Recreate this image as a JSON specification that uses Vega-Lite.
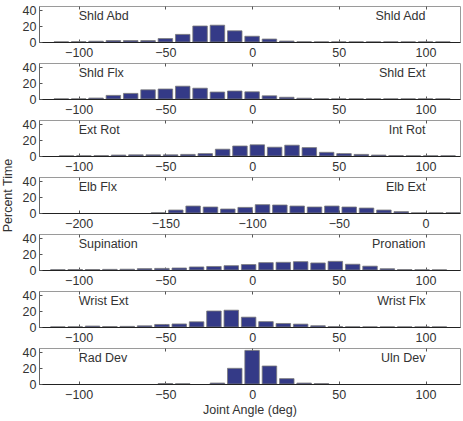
{
  "$schema": "https://vega.github.io/schema/vega-lite/v6.json",
  "padding": {"left": 0, "top": 3, "right": 0, "bottom": 0},
  "spacing": 21,
  "bounds": "flush",
  "config": {
    "font": "Liberation Sans",
    "view": {"stroke": "#9a9a9a", "strokeWidth": 1},
    "axis": {"labelFont": "Liberation Sans", "labelFontSize": 12.5, "labelColor": "#333333", "tickColor": "#555555", "domainColor": "#444444", "grid": false, "titleFont": "Liberation Sans", "titleFontSize": 12.5, "titleFontWeight": "normal", "titleColor": "#333333"}
  },
  "datasets": {
    "hist": [
      {"p":1,"a":-110,"v":0.2},{"p":1,"a":-100,"v":0.4},{"p":1,"a":-90,"v":1},{"p":1,"a":-80,"v":1.8},{"p":1,"a":-70,"v":1.8},{"p":1,"a":-60,"v":1.8},{"p":1,"a":-50,"v":4.3},{"p":1,"a":-40,"v":9.5},{"p":1,"a":-30,"v":20},{"p":1,"a":-20,"v":21},{"p":1,"a":-10,"v":14},{"p":1,"a":0,"v":7.2},{"p":1,"a":10,"v":3.7},{"p":1,"a":20,"v":1.2},{"p":1,"a":30,"v":0.3},{"p":1,"a":40,"v":0.2},{"p":1,"a":50,"v":0.2},{"p":1,"a":60,"v":0.2},{"p":1,"a":70,"v":0.2},{"p":1,"a":80,"v":0.2},{"p":1,"a":90,"v":0.2},{"p":1,"a":100,"v":0.2},{"p":1,"a":110,"v":0.2},
      {"p":2,"a":-110,"v":0.2},{"p":2,"a":-100,"v":0.2},{"p":2,"a":-90,"v":1.2},{"p":2,"a":-80,"v":4.5},{"p":2,"a":-70,"v":7},{"p":2,"a":-60,"v":11.5},{"p":2,"a":-50,"v":12.5},{"p":2,"a":-40,"v":16},{"p":2,"a":-30,"v":13.5},{"p":2,"a":-20,"v":8.7},{"p":2,"a":-10,"v":10},{"p":2,"a":0,"v":9},{"p":2,"a":10,"v":4},{"p":2,"a":20,"v":2.2},{"p":2,"a":30,"v":1},{"p":2,"a":40,"v":0.3},{"p":2,"a":50,"v":0.2},{"p":2,"a":60,"v":0.2},{"p":2,"a":70,"v":0.2},{"p":2,"a":80,"v":0.2},{"p":2,"a":90,"v":0.2},{"p":2,"a":100,"v":0.2},{"p":2,"a":110,"v":0.2},
      {"p":3,"a":-107,"v":0.2},{"p":3,"a":-97,"v":0.3},{"p":3,"a":-87,"v":0.5},{"p":3,"a":-77,"v":1.2},{"p":3,"a":-67,"v":1.5},{"p":3,"a":-57,"v":1.5},{"p":3,"a":-47,"v":1.5},{"p":3,"a":-37,"v":2},{"p":3,"a":-27,"v":3},{"p":3,"a":-17,"v":8.5},{"p":3,"a":-7,"v":12.5},{"p":3,"a":3,"v":14},{"p":3,"a":13,"v":11},{"p":3,"a":23,"v":13.5},{"p":3,"a":33,"v":10.5},{"p":3,"a":43,"v":4.6},{"p":3,"a":53,"v":3},{"p":3,"a":63,"v":2},{"p":3,"a":73,"v":1.2},{"p":3,"a":83,"v":0.5},{"p":3,"a":93,"v":0.3},{"p":3,"a":103,"v":0.3},{"p":3,"a":113,"v":0.3},
      {"p":4,"a":-154,"v":0.3},{"p":4,"a":-144,"v":3.7},{"p":4,"a":-134,"v":8.7},{"p":4,"a":-124,"v":7.5},{"p":4,"a":-114,"v":5},{"p":4,"a":-104,"v":7},{"p":4,"a":-94,"v":10.4},{"p":4,"a":-84,"v":10},{"p":4,"a":-74,"v":8.7},{"p":4,"a":-64,"v":7.5},{"p":4,"a":-54,"v":8.7},{"p":4,"a":-44,"v":7.5},{"p":4,"a":-34,"v":6.2},{"p":4,"a":-24,"v":3.7},{"p":4,"a":-14,"v":1.7},{"p":4,"a":-4,"v":0.2},{"p":4,"a":6,"v":0.2},{"p":4,"a":16,"v":0.4},
      {"p":5,"a":-112,"v":0.4},{"p":5,"a":-102,"v":0.6},{"p":5,"a":-92,"v":0.6},{"p":5,"a":-82,"v":0.8},{"p":5,"a":-72,"v":1},{"p":5,"a":-62,"v":1.7},{"p":5,"a":-52,"v":2},{"p":5,"a":-42,"v":2.5},{"p":5,"a":-32,"v":3.8},{"p":5,"a":-22,"v":4.4},{"p":5,"a":-12,"v":5.4},{"p":5,"a":-2,"v":6.8},{"p":5,"a":8,"v":9.2},{"p":5,"a":18,"v":9.6},{"p":5,"a":28,"v":10.4},{"p":5,"a":38,"v":8.8},{"p":5,"a":48,"v":10.8},{"p":5,"a":58,"v":7.2},{"p":5,"a":68,"v":4.8},{"p":5,"a":78,"v":1.6},{"p":5,"a":88,"v":0.5},{"p":5,"a":98,"v":0.3},{"p":5,"a":108,"v":0.2},
      {"p":6,"a":-112,"v":0.2},{"p":6,"a":-102,"v":0.3},{"p":6,"a":-92,"v":1.2},{"p":6,"a":-82,"v":0.6},{"p":6,"a":-72,"v":0.8},{"p":6,"a":-62,"v":1.5},{"p":6,"a":-52,"v":3.2},{"p":6,"a":-42,"v":3.8},{"p":6,"a":-32,"v":6.5},{"p":6,"a":-22,"v":20},{"p":6,"a":-12,"v":21},{"p":6,"a":-2,"v":12.3},{"p":6,"a":8,"v":6.7},{"p":6,"a":18,"v":4.4},{"p":6,"a":28,"v":3.6},{"p":6,"a":38,"v":1.6},{"p":6,"a":48,"v":0.5},{"p":6,"a":58,"v":0.3},{"p":6,"a":68,"v":0.2},{"p":6,"a":78,"v":0.2},{"p":6,"a":88,"v":0.2},{"p":6,"a":98,"v":0.2},{"p":6,"a":108,"v":0.2},
      {"p":7,"a":-50,"v":0.6},{"p":7,"a":-40,"v":0.3},{"p":7,"a":-20,"v":1.2},{"p":7,"a":-10,"v":19.6},{"p":7,"a":0,"v":42},{"p":7,"a":10,"v":22.5},{"p":7,"a":20,"v":6.7},{"p":7,"a":30,"v":1.2},{"p":7,"a":40,"v":0.5}
    ],
    "labels": [
      {"p":1,"side":"L","x":-100,"y":33,"t":"Shld Abd"},{"p":1,"side":"R","x":100,"y":33,"t":"Shld Add"},
      {"p":2,"side":"L","x":-100,"y":33,"t":"Shld Flx"},{"p":2,"side":"R","x":100,"y":33,"t":"Shld Ext"},
      {"p":3,"side":"L","x":-100,"y":33,"t":"Ext Rot"},{"p":3,"side":"R","x":100,"y":33,"t":"Int Rot"},
      {"p":4,"side":"L","x":-200,"y":33,"t":"Elb Flx"},{"p":4,"side":"R","x":0,"y":33,"t":"Elb Ext"},
      {"p":5,"side":"L","x":-100,"y":33,"t":"Supination"},{"p":5,"side":"R","x":100,"y":33,"t":"Pronation"},
      {"p":6,"side":"L","x":-100,"y":33,"t":"Wrist Ext"},{"p":6,"side":"R","x":100,"y":33,"t":"Wrist Flx"},
      {"p":7,"side":"L","x":-100,"y":32,"t":"Rad Dev"},{"p":7,"side":"R","x":100,"y":32,"t":"Uln Dev"}
    ]
  },
  "vconcat": [
    {"width": 421, "height": 36, "resolve": {"axis": {"x": "independent"}}, "layer": [
      {"data": {"name": "hist"}, "transform": [{"filter": "datum.p == 1"}], "mark": {"type": "bar", "width": 14.5, "color": "#343A87", "stroke": "#7a7a7a", "strokeWidth": 0.8, "clip": true},
       "encoding": {"x": {"field": "a", "type": "quantitative", "scale": {"domain": [-120, 117], "nice": false, "zero": false}, "axis": {"values": [-100,-50,0,50,100], "title": null, "tickSize": -3, "labelPadding": 7, "domainColor": "#222222"}},
                    "y": {"field": "v", "type": "quantitative", "scale": {"domain": [0, 45], "nice": false}, "axis": {"values": [0,20,40], "title": null, "tickSize": -3, "labelPadding": 6, "domainColor": "#666666"}}}},
      {"data": {"name": "labels"}, "transform": [{"filter": "datum.p == 1 && datum.side == 'L'"}], "mark": {"type": "text", "align": "left", "baseline": "middle", "fontSize": 12.5, "color": "#333333"},
       "encoding": {"x": {"field": "x", "type": "quantitative", "axis": null}, "y": {"field": "y", "type": "quantitative", "axis": {"values": [0,20,40], "title": null, "tickSize": -3, "labelPadding": 6, "domainColor": "#666666"}}, "text": {"field": "t"}}},
      {"data": {"name": "labels"}, "transform": [{"filter": "datum.p == 1 && datum.side == 'R'"}], "mark": {"type": "text", "align": "right", "baseline": "middle", "fontSize": 12.5, "color": "#333333"},
       "encoding": {"x": {"field": "x", "type": "quantitative", "axis": {"orient": "top", "values": [-100,-50,0,50,100], "labels": false, "domain": false, "tickSize": -3, "title": null}}, "y": {"field": "y", "type": "quantitative", "axis": {"values": [0,20,40], "title": null, "tickSize": -3, "labelPadding": 6, "domainColor": "#666666"}}, "text": {"field": "t"}}}
    ]},
    {"width": 421, "height": 36, "resolve": {"axis": {"x": "independent"}}, "layer": [
      {"data": {"name": "hist"}, "transform": [{"filter": "datum.p == 2"}], "mark": {"type": "bar", "width": 14.5, "color": "#343A87", "stroke": "#7a7a7a", "strokeWidth": 0.8, "clip": true},
       "encoding": {"x": {"field": "a", "type": "quantitative", "scale": {"domain": [-120, 117], "nice": false, "zero": false}, "axis": {"values": [-100,-50,0,50,100], "title": null, "tickSize": -3, "labelPadding": 7, "domainColor": "#222222"}},
                    "y": {"field": "v", "type": "quantitative", "scale": {"domain": [0, 45], "nice": false}, "axis": {"values": [0,20,40], "title": null, "tickSize": -3, "labelPadding": 6, "domainColor": "#666666"}}}},
      {"data": {"name": "labels"}, "transform": [{"filter": "datum.p == 2 && datum.side == 'L'"}], "mark": {"type": "text", "align": "left", "baseline": "middle", "fontSize": 12.5, "color": "#333333"},
       "encoding": {"x": {"field": "x", "type": "quantitative", "axis": null}, "y": {"field": "y", "type": "quantitative", "axis": {"values": [0,20,40], "title": null, "tickSize": -3, "labelPadding": 6, "domainColor": "#666666"}}, "text": {"field": "t"}}},
      {"data": {"name": "labels"}, "transform": [{"filter": "datum.p == 2 && datum.side == 'R'"}], "mark": {"type": "text", "align": "right", "baseline": "middle", "fontSize": 12.5, "color": "#333333"},
       "encoding": {"x": {"field": "x", "type": "quantitative", "axis": {"orient": "top", "values": [-100,-50,0,50,100], "labels": false, "domain": false, "tickSize": -3, "title": null}}, "y": {"field": "y", "type": "quantitative", "axis": {"values": [0,20,40], "title": null, "tickSize": -3, "labelPadding": 6, "domainColor": "#666666"}}, "text": {"field": "t"}}}
    ]},
    {"width": 421, "height": 36, "resolve": {"axis": {"x": "independent"}}, "layer": [
      {"data": {"name": "hist"}, "transform": [{"filter": "datum.p == 3"}], "mark": {"type": "bar", "width": 14.5, "color": "#343A87", "stroke": "#7a7a7a", "strokeWidth": 0.8, "clip": true},
       "encoding": {"x": {"field": "a", "type": "quantitative", "scale": {"domain": [-120, 117], "nice": false, "zero": false}, "axis": {"values": [-100,-50,0,50,100], "title": null, "tickSize": -3, "labelPadding": 7, "domainColor": "#222222"}},
                    "y": {"field": "v", "type": "quantitative", "scale": {"domain": [0, 45], "nice": false}, "axis": {"values": [0,20,40], "title": null, "tickSize": -3, "labelPadding": 6, "domainColor": "#666666"}}}},
      {"data": {"name": "labels"}, "transform": [{"filter": "datum.p == 3 && datum.side == 'L'"}], "mark": {"type": "text", "align": "left", "baseline": "middle", "fontSize": 12.5, "color": "#333333"},
       "encoding": {"x": {"field": "x", "type": "quantitative", "axis": null}, "y": {"field": "y", "type": "quantitative", "axis": {"values": [0,20,40], "title": null, "tickSize": -3, "labelPadding": 6, "domainColor": "#666666"}}, "text": {"field": "t"}}},
      {"data": {"name": "labels"}, "transform": [{"filter": "datum.p == 3 && datum.side == 'R'"}], "mark": {"type": "text", "align": "right", "baseline": "middle", "fontSize": 12.5, "color": "#333333"},
       "encoding": {"x": {"field": "x", "type": "quantitative", "axis": {"orient": "top", "values": [-100,-50,0,50,100], "labels": false, "domain": false, "tickSize": -3, "title": null}}, "y": {"field": "y", "type": "quantitative", "axis": {"values": [0,20,40], "title": null, "tickSize": -3, "labelPadding": 6, "domainColor": "#666666"}}, "text": {"field": "t"}}}
    ]},
    {"width": 421, "height": 36, "resolve": {"axis": {"x": "independent"}}, "layer": [
      {"data": {"name": "hist"}, "transform": [{"filter": "datum.p == 4"}], "mark": {"type": "bar", "width": 14.5, "color": "#343A87", "stroke": "#7a7a7a", "strokeWidth": 0.8, "clip": true},
       "encoding": {"x": {"field": "a", "type": "quantitative", "scale": {"domain": [-220, 17], "nice": false, "zero": false}, "axis": {"values": [-200,-150,-100,-50,0], "title": null, "tickSize": -3, "labelPadding": 7, "domainColor": "#222222"}},
                    "y": {"field": "v", "type": "quantitative", "scale": {"domain": [0, 45], "nice": false}, "axis": {"values": [0,20,40], "title": "Percent Time", "titlePadding": 8, "tickSize": -3, "labelPadding": 6, "domainColor": "#666666"}}}},
      {"data": {"name": "labels"}, "transform": [{"filter": "datum.p == 4 && datum.side == 'L'"}], "mark": {"type": "text", "align": "left", "baseline": "middle", "fontSize": 12.5, "color": "#333333"},
       "encoding": {"x": {"field": "x", "type": "quantitative", "axis": null}, "y": {"field": "y", "type": "quantitative", "axis": {"values": [0,20,40], "title": "Percent Time", "titlePadding": 8, "tickSize": -3, "labelPadding": 6, "domainColor": "#666666"}}, "text": {"field": "t"}}},
      {"data": {"name": "labels"}, "transform": [{"filter": "datum.p == 4 && datum.side == 'R'"}], "mark": {"type": "text", "align": "right", "baseline": "middle", "fontSize": 12.5, "color": "#333333"},
       "encoding": {"x": {"field": "x", "type": "quantitative", "axis": {"orient": "top", "values": [-200,-150,-100,-50,0], "labels": false, "domain": false, "tickSize": -3, "title": null}}, "y": {"field": "y", "type": "quantitative", "axis": {"values": [0,20,40], "title": "Percent Time", "titlePadding": 8, "tickSize": -3, "labelPadding": 6, "domainColor": "#666666"}}, "text": {"field": "t"}}}
    ]},
    {"width": 421, "height": 36, "resolve": {"axis": {"x": "independent"}}, "layer": [
      {"data": {"name": "hist"}, "transform": [{"filter": "datum.p == 5"}], "mark": {"type": "bar", "width": 14.5, "color": "#343A87", "stroke": "#7a7a7a", "strokeWidth": 0.8, "clip": true},
       "encoding": {"x": {"field": "a", "type": "quantitative", "scale": {"domain": [-120, 117], "nice": false, "zero": false}, "axis": {"values": [-100,-50,0,50,100], "title": null, "tickSize": -3, "labelPadding": 7, "domainColor": "#222222"}},
                    "y": {"field": "v", "type": "quantitative", "scale": {"domain": [0, 45], "nice": false}, "axis": {"values": [0,20,40], "title": null, "tickSize": -3, "labelPadding": 6, "domainColor": "#666666"}}}},
      {"data": {"name": "labels"}, "transform": [{"filter": "datum.p == 5 && datum.side == 'L'"}], "mark": {"type": "text", "align": "left", "baseline": "middle", "fontSize": 12.5, "color": "#333333"},
       "encoding": {"x": {"field": "x", "type": "quantitative", "axis": null}, "y": {"field": "y", "type": "quantitative", "axis": {"values": [0,20,40], "title": null, "tickSize": -3, "labelPadding": 6, "domainColor": "#666666"}}, "text": {"field": "t"}}},
      {"data": {"name": "labels"}, "transform": [{"filter": "datum.p == 5 && datum.side == 'R'"}], "mark": {"type": "text", "align": "right", "baseline": "middle", "fontSize": 12.5, "color": "#333333"},
       "encoding": {"x": {"field": "x", "type": "quantitative", "axis": {"orient": "top", "values": [-100,-50,0,50,100], "labels": false, "domain": false, "tickSize": -3, "title": null}}, "y": {"field": "y", "type": "quantitative", "axis": {"values": [0,20,40], "title": null, "tickSize": -3, "labelPadding": 6, "domainColor": "#666666"}}, "text": {"field": "t"}}}
    ]},
    {"width": 421, "height": 36, "resolve": {"axis": {"x": "independent"}}, "layer": [
      {"data": {"name": "hist"}, "transform": [{"filter": "datum.p == 6"}], "mark": {"type": "bar", "width": 14.5, "color": "#343A87", "stroke": "#7a7a7a", "strokeWidth": 0.8, "clip": true},
       "encoding": {"x": {"field": "a", "type": "quantitative", "scale": {"domain": [-120, 117], "nice": false, "zero": false}, "axis": {"values": [-100,-50,0,50,100], "title": null, "tickSize": -3, "labelPadding": 7, "domainColor": "#222222"}},
                    "y": {"field": "v", "type": "quantitative", "scale": {"domain": [0, 45], "nice": false}, "axis": {"values": [0,20,40], "title": null, "tickSize": -3, "labelPadding": 6, "domainColor": "#666666"}}}},
      {"data": {"name": "labels"}, "transform": [{"filter": "datum.p == 6 && datum.side == 'L'"}], "mark": {"type": "text", "align": "left", "baseline": "middle", "fontSize": 12.5, "color": "#333333"},
       "encoding": {"x": {"field": "x", "type": "quantitative", "axis": null}, "y": {"field": "y", "type": "quantitative", "axis": {"values": [0,20,40], "title": null, "tickSize": -3, "labelPadding": 6, "domainColor": "#666666"}}, "text": {"field": "t"}}},
      {"data": {"name": "labels"}, "transform": [{"filter": "datum.p == 6 && datum.side == 'R'"}], "mark": {"type": "text", "align": "right", "baseline": "middle", "fontSize": 12.5, "color": "#333333"},
       "encoding": {"x": {"field": "x", "type": "quantitative", "axis": {"orient": "top", "values": [-100,-50,0,50,100], "labels": false, "domain": false, "tickSize": -3, "title": null}}, "y": {"field": "y", "type": "quantitative", "axis": {"values": [0,20,40], "title": null, "tickSize": -3, "labelPadding": 6, "domainColor": "#666666"}}, "text": {"field": "t"}}}
    ]},
    {"width": 421, "height": 36, "resolve": {"axis": {"x": "independent"}}, "layer": [
      {"data": {"name": "hist"}, "transform": [{"filter": "datum.p == 7"}], "mark": {"type": "bar", "width": 14.5, "color": "#343A87", "stroke": "#7a7a7a", "strokeWidth": 0.8, "clip": true},
       "encoding": {"x": {"field": "a", "type": "quantitative", "scale": {"domain": [-120, 117], "nice": false, "zero": false}, "axis": {"values": [-100,-50,0,50,100], "title": "Joint Angle (deg)", "titlePadding": 3, "tickSize": -3, "labelPadding": 7, "domainColor": "#222222"}},
                    "y": {"field": "v", "type": "quantitative", "scale": {"domain": [0, 45], "nice": false}, "axis": {"values": [0,20,40], "title": null, "tickSize": -3, "labelPadding": 6, "domainColor": "#666666"}}}},
      {"data": {"name": "labels"}, "transform": [{"filter": "datum.p == 7 && datum.side == 'L'"}], "mark": {"type": "text", "align": "left", "baseline": "middle", "fontSize": 12.5, "color": "#333333"},
       "encoding": {"x": {"field": "x", "type": "quantitative", "axis": null}, "y": {"field": "y", "type": "quantitative", "axis": {"values": [0,20,40], "title": null, "tickSize": -3, "labelPadding": 6, "domainColor": "#666666"}}, "text": {"field": "t"}}},
      {"data": {"name": "labels"}, "transform": [{"filter": "datum.p == 7 && datum.side == 'R'"}], "mark": {"type": "text", "align": "right", "baseline": "middle", "fontSize": 12.5, "color": "#333333"},
       "encoding": {"x": {"field": "x", "type": "quantitative", "axis": {"orient": "top", "values": [-100,-50,0,50,100], "labels": false, "domain": false, "tickSize": -3, "title": null}}, "y": {"field": "y", "type": "quantitative", "axis": {"values": [0,20,40], "title": null, "tickSize": -3, "labelPadding": 6, "domainColor": "#666666"}}, "text": {"field": "t"}}}
    ]}
  ]
}
